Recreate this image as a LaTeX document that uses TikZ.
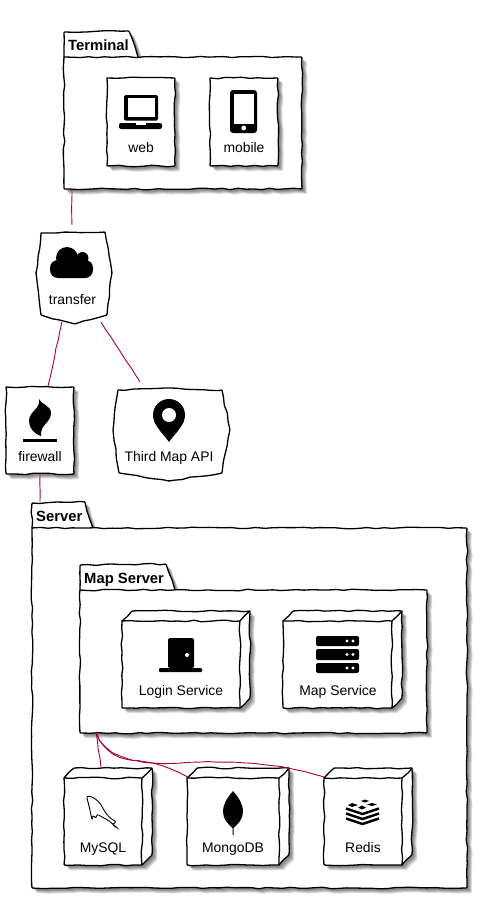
\documentclass[tikz,border=0pt]{standalone}
\usepackage{fontspec}
\setmainfont{Liberation Sans}
\usetikzlibrary{positioning,decorations.pathmorphing}
\definecolor{linkred}{HTML}{A80036}
\tikzset{
  hand/.style={line width=1.3pt,line cap=round,line join=round,rounded corners=.7pt,
    decoration={random steps,segment length=8pt,amplitude=.8pt},
    to path={decorate{-- (\tikztotarget)}}},
  softshadow/.style={preaction={fill=black,fill opacity=.14,transform canvas={shift={(#1,-#1)}}}},
  handbox/.style={softshadow=2pt,softshadow=3pt,softshadow=4pt,softshadow=5pt,fill=white,draw=black,hand},
  handflat/.style={fill=white,draw=black,hand},
  handline/.style={draw=black,hand},
  place/.style={inner sep=0pt,outer sep=0pt},
  nametext/.style={inner sep=0pt,anchor=base,font=\fontsize{13.9}{16}\selectfont},
  pkgtext/.style={inner sep=0pt,anchor=base west,font=\fontsize{14.8}{16}\selectfont\bfseries},
  link/.style={draw=linkred,line width=.9pt,rounded corners=1pt,decorate,
    decoration={random steps,segment length=9pt,amplitude=.4pt}},
}
\newcommand\handrect[1]{\draw[handbox] (#1.north west) to (#1.north east) to (#1.south east) to (#1.south west) to (#1.north west);}
\newcommand\handcube[1]{
  \draw[handbox] ([yshift=-10]#1.north west) to ([xshift=10]#1.north west) to (#1.north east) to ([yshift=10]#1.south east)
    to ([xshift=-10]#1.south east) to (#1.south west) to ([yshift=-10]#1.north west);
  \draw[handline] ([yshift=-10]#1.north west) to ([xshift=-10,yshift=-10]#1.north east) to ([xshift=-10]#1.south east);
  \draw[handline] ([xshift=-10,yshift=-10]#1.north east) to (#1.north east);
}
\begin{document}
\begin{tikzpicture}[x=1pt,y=-1pt]
  \useasboundingbox (0,0) rectangle (487,900);
  \pgfmathsetseed{11}

  % Terminal
  \node[place,minimum width=238,minimum height=132] (terminal) at (183,123) {};
  \draw[handbox] (64,57) to (64,32) to (129,31) to (138,57);
  \handrect{terminal}
  \node[pkgtext] (terminaltext) at (68,50) {Terminal};
  \node[place,minimum width=68,minimum height=88] (web) at (141,122) {};
  \handrect{web}
  \node[nametext] (webtext) at (141,152) {web};
  \fill[rounded corners=1.5pt] (124,95) rectangle (158,120.5);
  \fill[white] (127.5,98) rectangle (154.5,117);
  \fill[rounded corners=2pt] (119,123) -- (162,123) -- (162,129) -- (119,129) -- cycle;
  \fill[white] (136,123) rectangle (146,124.5);
  \node[place,minimum width=68,minimum height=88] (mobile) at (244,122) {};
  \handrect{mobile}
  \node[nametext] (mobiletext) at (244,152) {mobile};
  \fill[rounded corners=3pt] (230,90) rectangle (257,133);
  \fill[white] (234,93.5) rectangle (253.5,124);
  \fill[white] (243.7,128) circle (2.4pt);

  % transfer
  \node[place,minimum width=76,minimum height=91] (transfer) at (74,278.5) {};
  \draw[handflat] (41,233) to (105,232) to (112,273) to (107,315) to (75,324) to (41,315) to (36,273) to (41,233);
  \node[nametext] (transfertext) at (72.5,304) {transfer};
  \fill (67,258) circle (11pt);
  \fill (82.5,258) circle (6pt);
  \fill[rounded corners=8pt] (50,260) rectangle (93,278);

  % firewall
  \node[place,minimum width=68,minimum height=87] (firewall) at (40,430.5) {};
  \handrect{firewall}
  \node[nametext] (firewalltext) at (40,461) {firewall};
  \fill (39,399) .. controls (40,404) and (51,405) .. (51,413) .. controls (51,423) and (40,424) .. (41,436)
    .. controls (34,434) and (29,428) .. (29,421) .. controls (29,411) and (41,409) .. (39,399) -- cycle;
  \fill (23,439) rectangle (57,442);

  % Third Map API
  \node[place,minimum width=117,minimum height=93] (thirdmap) at (171.5,434.5) {};
  \draw[handflat] (118,390) to (170,388) to (222,390) to (230,430) to (222,473) to (169,481) to (119,473) to (113,430) to (118,390);
  \node[nametext] (thirdmaptext) at (169,461) {Third Map API};
  \fill (169,415) circle (16pt);
  \fill (154,421) .. controls (158,430) and (165,436) .. (169,442) .. controls (173,436) and (180,430) .. (184,421) -- cycle;
  \fill[white] (169,415) circle (7pt);

  % Server
  \node[place,minimum width=435,minimum height=360] (server) at (249.5,708) {};
  \draw[handbox] (32,528) to (32,503) to (85,502) to (93,528);
  \handrect{server}
  \node[pkgtext] (servertext) at (36,521) {Server};

  % Map Server
  \node[place,minimum width=347,minimum height=143] (mapserver) at (253.5,661.5) {};
  \draw[handbox] (80,590) to (80,565) to (166,564) to (175,590);
  \handrect{mapserver}
  \node[pkgtext] (mapservertext) at (84,583) {Map Server};
  \node[place,minimum width=128,minimum height=97] (login) at (186,659.5) {};
  \handcube{login}
  \node[nametext] (logintext) at (181,695) {Login Service};
  \fill[rounded corners=1.5pt] (168,668) -- (168,638) -- (194,638) -- (194,668) -- cycle;
  \fill[rounded corners=1pt] (159,668) rectangle (202,672);
  \fill[white] (187,655) circle (2pt);
  \node[place,minimum width=119,minimum height=97] (mapservice) at (342.5,659.5) {};
  \handcube{mapservice}
  \node[nametext] (mapservicetext) at (338,695) {Map Service};
  \foreach \y/\z in {636/646,649/660,663/673}{
    \fill[rounded corners=2pt] (316,\y) rectangle (359,\z);
    \fill[white] (347,{(\y+\z)/2}) circle (1.7pt);
    \fill[white] (353,{(\y+\z)/2}) circle (1.7pt);
  }

  % stores
  \node[place,minimum width=88,minimum height=97] (mysql) at (108,816.5) {};
  \handcube{mysql}
  \node[nametext] (mysqltext) at (103,852) {MySQL};
  \draw[line width=.9pt,rounded corners=2pt] (86.5,796) -- (93,797) -- (100,803) -- (105,812) -- (110,818) -- (116.5,822)
    -- (112,824.5) -- (118,828.5) -- (108,820) -- (102,817) -- (97,814) -- (96,818.5) -- (93,815) -- (92,820) -- (90,810) -- cycle;
  \node[place,minimum width=102,minimum height=97] (mongodb) at (238,816.5) {};
  \handcube{mongodb}
  \node[nametext] (mongodbtext) at (233,852) {MongoDB};
  \fill (233,791) .. controls (227,798) and (223,804) .. (223,812) .. controls (223,819) and (228,824) .. (232.5,828) -- (232.5,835) -- (233.5,835) -- (233.5,828)
    .. controls (238,824) and (243,819) .. (243,812) .. controls (243,804) and (239,798) .. (233,791) -- cycle;
  \node[place,minimum width=88,minimum height=97] (redis) at (368,816.5) {};
  \handcube{redis}
  \node[nametext] (redistext) at (363,852) {Redis};
  \foreach \y in {808.5,813.5,818.5}{
    \draw[line width=2.4pt,line join=miter] (346,\y) -- (362.5,\y+5.5) -- (379,\y);
  }
  \fill (365,799.5) -- (369,801) -- (365,802.5) -- (361,801) -- cycle;
  \fill (352,803) -- (358,805) -- (352,807) -- (348,805) -- cycle;
  \fill (372,803) -- (377,804.5) -- (372,806) -- (367,804.5) -- cycle;
  \fill (362,805.5) -- (366,807.5) -- (362,809.5) -- (358,807.5) -- cycle;

  % links
  \draw[link] ([xshift=8]terminal.south west) -- ([xshift=-2,yshift=8]transfer.north);
  \draw[link] ([xshift=-12,yshift=2]transfer.south) -- ([xshift=8,yshift=1]firewall.north);
  \draw[link] ([xshift=27,yshift=2]transfer.south) -- ([xshift=-31.5,yshift=6]thirdmap.north);
  \draw[link] (firewall.south) -- ([xshift=8,yshift=26]server.north west);
  \draw[link] ([xshift=16,yshift=1]mapserver.south west) -- ([xshift=-7,yshift=1]mysql.north);
  \draw[link] ([xshift=16,yshift=1]mapserver.south west) .. controls (104,750) and (118,756) .. (135,760)
    .. controls (155,763) and (170,767) .. ([yshift=-9]mongodb.north west);
  \draw[link] ([xshift=16,yshift=1]mapserver.south west) .. controls (104,752) and (118,757) .. (135,760.5)
    .. controls (150,763) and (165,764) .. (180,763) .. controls (220,761) and (270,760) .. ([yshift=-9]redis.north west);
\end{tikzpicture}
\end{document}
